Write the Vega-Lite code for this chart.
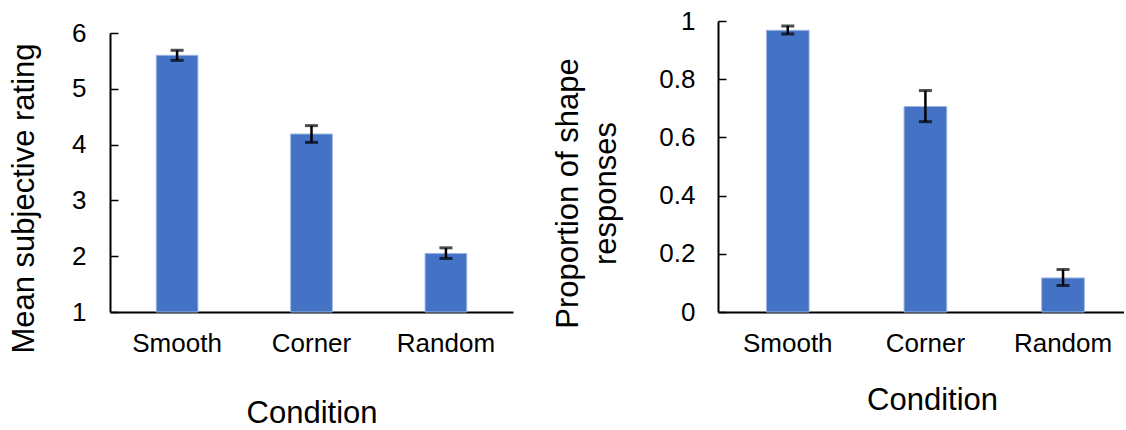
{
  "$schema": "https://vega.github.io/schema/vega-lite/v6.json",
  "padding": {"left": 8, "top": 8, "right": 0, "bottom": 0},
  "background": "white",
  "bounds": "flush",
  "spacing": 205,
  "config": {
    "view": {"stroke": null},
    "font": "Liberation Sans",
    "axis": {"labelFont": "Liberation Sans", "titleFont": "Liberation Sans", "labelColor": "#000", "titleColor": "#000", "titleFontWeight": "normal", "domainColor": "#000", "tickColor": "#000", "grid": false}
  },
  "datasets": {
    "rating": [
      {"Condition": "Smooth", "mean": 5.60, "lo": 5.51, "hi": 5.69},
      {"Condition": "Corner", "mean": 4.19, "lo": 4.04, "hi": 4.34},
      {"Condition": "Random", "mean": 2.05, "lo": 1.96, "hi": 2.15}
    ],
    "shape": [
      {"Condition": "Smooth", "mean": 0.968, "lo": 0.955, "hi": 0.983},
      {"Condition": "Corner", "mean": 0.706, "lo": 0.654, "hi": 0.761},
      {"Condition": "Random", "mean": 0.117, "lo": 0.091, "hi": 0.146}
    ]
  },
  "hconcat": [
    {
      "width": 403,
      "height": 291,
      "data": {"name": "rating"},
      "encoding": {
        "x": {"field": "Condition", "type": "nominal", "sort": null,
          "scale": {"paddingInner": 0.69, "paddingOuter": 0.344},
          "axis": {"title": "Condition", "labelAngle": 0, "labelFontSize": 26, "titleFontSize": 31, "ticks": false, "labelPadding": 18, "titlePadding": 42, "domainWidth": 2}}
      },
      "layer": [
        {
          "mark": {"type": "bar", "color": "#4472C4", "stroke": "#9DB5E3", "strokeWidth": 1},
          "encoding": {
            "y": {"field": "mean", "type": "quantitative", "scale": {"domain": [1, 6], "zero": false, "nice": false, "range": [291, 12]},
              "axis": {"title": "Mean subjective rating", "values": [1, 2, 3, 4, 5, 6], "format": "~g", "labelFontSize": 26, "titleFontSize": 31, "tickSize": -8, "tickWidth": 1.5, "domainWidth": 2, "labelPadding": 32, "titleX": -76.5, "titleY": 177, "titleBaseline": "alphabetic", "titleAngle": -90, "titleAlign": "center"}},
            "y2": {"datum": 1}
          }
        },
        {
          "mark": {"type": "rule", "color": "#000", "strokeWidth": 2.5},
          "encoding": {"y": {"field": "lo", "type": "quantitative"}, "y2": {"field": "hi"}}
        },
        {
          "mark": {"type": "tick", "color": "#000", "size": 13, "thickness": 3},
          "encoding": {"y": {"field": "lo", "type": "quantitative"}}
        },
        {
          "mark": {"type": "tick", "color": "#000", "size": 13, "thickness": 3},
          "encoding": {"y": {"field": "hi", "type": "quantitative"}}
        }
      ]
    },
    {
      "width": 406,
      "height": 291,
      "data": {"name": "shape"},
      "encoding": {
        "x": {"field": "Condition", "type": "nominal", "sort": null,
          "scale": {"paddingInner": 0.69, "paddingOuter": 0.32, "align": 0.55},
          "axis": {"title": "Condition", "labelAngle": 0, "labelFontSize": 26, "titleFontSize": 31, "ticks": false, "labelPadding": 18, "titlePadding": 29, "titleX": 214, "domainWidth": 2}}
      },
      "layer": [
        {
          "mark": {"type": "bar", "color": "#4472C4", "stroke": "#9DB5E3", "strokeWidth": 1},
          "encoding": {
            "y": {"field": "mean", "type": "quantitative", "scale": {"domain": [0, 1], "nice": false},
              "axis": {"title": ["Proportion of shape", "responses"], "values": [0, 0.2, 0.4, 0.6, 0.8, 1], "format": "~g", "labelFontSize": 26, "titleFontSize": 31, "titleLineHeight": 38, "tickSize": -8, "tickWidth": 1.5, "domainWidth": 2, "labelPadding": 31, "titleX": -141, "titleY": 172, "titleBaseline": "alphabetic", "titleAngle": -90, "titleAlign": "center"}},
            "y2": {"datum": 0}
          }
        },
        {
          "mark": {"type": "rule", "color": "#000", "strokeWidth": 2.5},
          "encoding": {"y": {"field": "lo", "type": "quantitative"}, "y2": {"field": "hi"}}
        },
        {
          "mark": {"type": "tick", "color": "#000", "size": 13, "thickness": 3},
          "encoding": {"y": {"field": "lo", "type": "quantitative"}}
        },
        {
          "mark": {"type": "tick", "color": "#000", "size": 13, "thickness": 3},
          "encoding": {"y": {"field": "hi", "type": "quantitative"}}
        }
      ]
    }
  ]
}
